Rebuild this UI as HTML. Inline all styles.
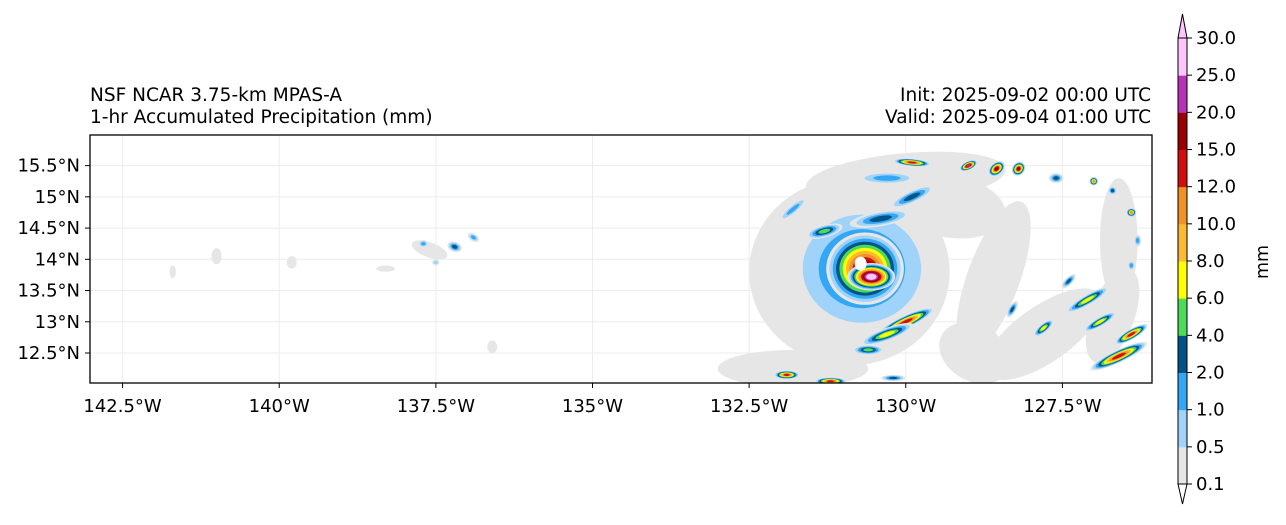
<!DOCTYPE html>
<html><head><meta charset="utf-8"><style>
body{margin:0;background:#fff;}
svg text{font-family:"DejaVu Sans","Liberation Sans",sans-serif;fill:#000;}
</style></head><body>
<svg id="chart" width="1286" height="520" viewBox="0 0 1286 520" xmlns="http://www.w3.org/2000/svg">
<text x="90" y="101" font-size="18.5">NSF NCAR 3.75-km MPAS-A</text>
<text x="90" y="123" font-size="18.5">1-hr Accumulated Precipitation (mm)</text>
<text x="1151" y="101" font-size="18.5" text-anchor="end">Init: 2025-09-02 00:00 UTC</text>
<text x="1151" y="123" font-size="18.5" text-anchor="end">Valid: 2025-09-04 01:00 UTC</text>
<defs><clipPath id="clip"><rect x="90" y="135" width="1062" height="248"/></clipPath></defs>
<g id="grid"></g>
<g id="field" clip-path="url(#clip)"></g>
<rect x="90" y="135" width="1062" height="248" fill="none" stroke="#000" stroke-width="1.3"/>
<g id="axes"></g>
<g id="cbar"></g>
<text transform="translate(1268,262) rotate(-90)" font-size="17.5" text-anchor="middle">mm</text>
</svg>
<script>
const lonTicks=[-142.5,-140,-137.5,-135,-132.5,-130,-127.5];
const lonLabels=["142.5°W","140°W","137.5°W","135°W","132.5°W","130°W","127.5°W"];
const latTicks=[15.5,15,14.5,14,13.5,13,12.5];
const latLabels=["15.5°N","15°N","14.5°N","14°N","13.5°N","13°N","12.5°N"];
const levels=["0.1","0.5","1.0","2.0","4.0","6.0","8.0","10.0","12.0","15.0","20.0","25.0","30.0"];
const colors=["#e6e6e6","#9fd3fa","#33a7f5","#005385","#4ddc59","#ffff00","#fdb932","#f09227","#d30c0c","#9a0000","#b832b8","#ffc6fd"];
// blobs: [lon, lat, rxDeg, ryDeg, rotationDeg, maxLevelIndex]
const greyBlobs=[
[-130.9,13.8,1.6,1.5,0,0],[-130.0,15.3,1.6,0.4,-5,0],[-129.3,14.85,0.9,0.5,10,0],
[-128.6,13.7,0.42,1.3,20,0],[-127.8,12.8,1.1,0.45,-35,0],[-126.6,14.3,0.3,1.0,0,0],
[-131.8,12.25,1.2,0.3,0,0],[-128.9,12.5,0.6,0.45,30,0],[-126.7,13.1,0.35,0.8,20,0],
[-141.0,14.05,0.08,0.13,0,0],[-139.8,13.95,0.08,0.1,0,0],[-141.7,13.8,0.05,0.1,0,0],
[-138.3,13.85,0.15,0.05,0,0],[-137.6,14.15,0.3,0.12,20,0],[-136.6,12.6,0.08,0.1,0,0]
];
const rainBlobs=[
[-130.7,13.85,1.2,1.1,0,3],[-130.65,13.85,0.62,0.58,0,9],[-130.55,13.72,0.38,0.22,0,11],
[-130.0,13.0,0.5,0.1,-25,8],[-130.3,12.8,0.45,0.1,-20,5],[-130.6,12.55,0.25,0.08,0,4],
[-131.3,14.45,0.3,0.1,-15,4],[-130.4,14.65,0.5,0.12,-10,3],[-129.9,15.0,0.4,0.1,-25,3],
[-131.8,14.8,0.3,0.07,-40,2],[-130.3,15.3,0.5,0.1,0,2],
[-129.9,15.55,0.3,0.06,5,8],[-129.0,15.5,0.15,0.07,-25,10],[-128.55,15.45,0.15,0.1,-40,9],[-128.2,15.45,0.12,0.1,-50,9],
[-127.6,15.3,0.12,0.08,0,3],[-127.0,15.25,0.07,0.07,0,7],[-126.4,14.75,0.08,0.07,0,7],[-126.7,15.1,0.07,0.07,0,3],
[-126.3,14.3,0.06,0.1,0,2],[-126.4,13.9,0.06,0.08,0,2],
[-127.1,13.35,0.4,0.08,-30,5],[-126.9,13.0,0.3,0.07,-30,5],[-126.4,12.8,0.3,0.08,-30,8],[-126.6,12.45,0.5,0.1,-25,8],
[-127.8,12.9,0.2,0.07,-40,5],[-128.3,13.2,0.15,0.06,-60,3],[-127.4,13.65,0.15,0.06,-45,3],
[-131.9,12.15,0.2,0.07,0,8],[-131.2,12.05,0.25,0.06,0,8],[-130.2,12.1,0.2,0.05,0,3],
[-137.2,14.2,0.12,0.08,20,3],[-136.9,14.35,0.1,0.06,30,2],[-137.7,14.25,0.08,0.06,0,2],[-137.5,13.95,0.06,0.05,0,1]
];
const X0=90,W=1062,Y0=135,H=248,lonMin=-143.02,lonMax=-126.07,latMin=12.02,latMax=15.99;
const xS=l=>X0+(l-lonMin)/(lonMax-lonMin)*W;
const yS=l=>Y0+(latMax-l)/(latMax-latMin)*H;
const pxLon=W/(lonMax-lonMin), pxLat=H/(latMax-latMin);
const NS="http://www.w3.org/2000/svg";
function mk(t,a,p){const e=document.createElementNS(NS,t);for(const k in a)e.setAttribute(k,a[k]);p.appendChild(e);return e;}
const grid=document.getElementById('grid'),axes=document.getElementById('axes');
lonTicks.forEach((v,i)=>{const x=xS(v);
 const g=mk('line',{x1:x,x2:x,y1:Y0,y2:Y0+H,stroke:'#ececec','stroke-width':1},grid);
 
 const t=mk('line',{x1:x,x2:x,y1:Y0+H,y2:Y0+H+5,stroke:'#000'},axes);
 
 const tx=mk('text',{x:x,y:Y0+H+29,'font-size':18,'text-anchor':'middle'},axes);tx.textContent=lonLabels[i];
 });
latTicks.forEach((v,i)=>{const y=yS(v);
 const g=mk('line',{x1:X0,x2:X0+W,y1:y,y2:y,stroke:'#ececec','stroke-width':1},grid);
 
 const t=mk('line',{x1:X0-5,x2:X0,y1:y,y2:y,stroke:'#000'},axes);
 
 const tx=mk('text',{x:X0-10,y:y+6,'font-size':18,'text-anchor':'end'},axes);tx.textContent=latLabels[i];
 });
const field=document.getElementById('field');
function drawBlob(b){const [lo,la,rx,ry,rot,lv]=b;const cx=xS(lo),cy=yS(la);
 for(let k=0;k<=lv;k++){const s=1-k/(lv+1)*0.85;
  const e=mk('ellipse',{cx:cx,cy:cy,rx:rx*pxLon*s,ry:ry*pxLat*s,fill:colors[k],transform:`rotate(${rot} ${cx} ${cy})`},field);
  }}
greyBlobs.forEach(drawBlob);
rainBlobs.forEach(drawBlob);
const eye=mk('ellipse',{cx:xS(-130.72),cy:yS(13.93),rx:6,ry:7,fill:'#fff'},field);

const cb=document.getElementById('cbar');const cbX=1178,cbW=9,cbTop=38,cbBot=484,n=colors.length;const seg=(cbBot-cbTop)/n;
colors.forEach((c,i)=>{const r=mk('rect',{x:cbX,y:cbBot-(i+1)*seg,width:cbW,height:seg+0.5,fill:c},cb);
 });
const up=mk('polygon',{points:`${cbX},${cbTop} ${cbX+cbW/2},14 ${cbX+cbW},${cbTop}`,fill:colors[n-1],stroke:'#000','stroke-width':1},cb);

const dn=mk('polygon',{points:`${cbX},${cbBot} ${cbX+cbW/2},504 ${cbX+cbW},${cbBot}`,fill:'#fff',stroke:'#000','stroke-width':1},cb);

const fr=mk('path',{d:`M${cbX} ${cbTop}V${cbBot}M${cbX+cbW} ${cbTop}V${cbBot}`,stroke:'#000','stroke-width':1,fill:'none'},cb);

levels.forEach((l,i)=>{const y=cbBot-i*seg;
 const t=mk('line',{x1:cbX+cbW,x2:cbX+cbW+5,y1:y,y2:y,stroke:'#000'},cb);
 
 const tx=mk('text',{x:cbX+cbW+9,y:y+6,'font-size':18,},cb);tx.textContent=l;
 });
</script>
</body></html>
